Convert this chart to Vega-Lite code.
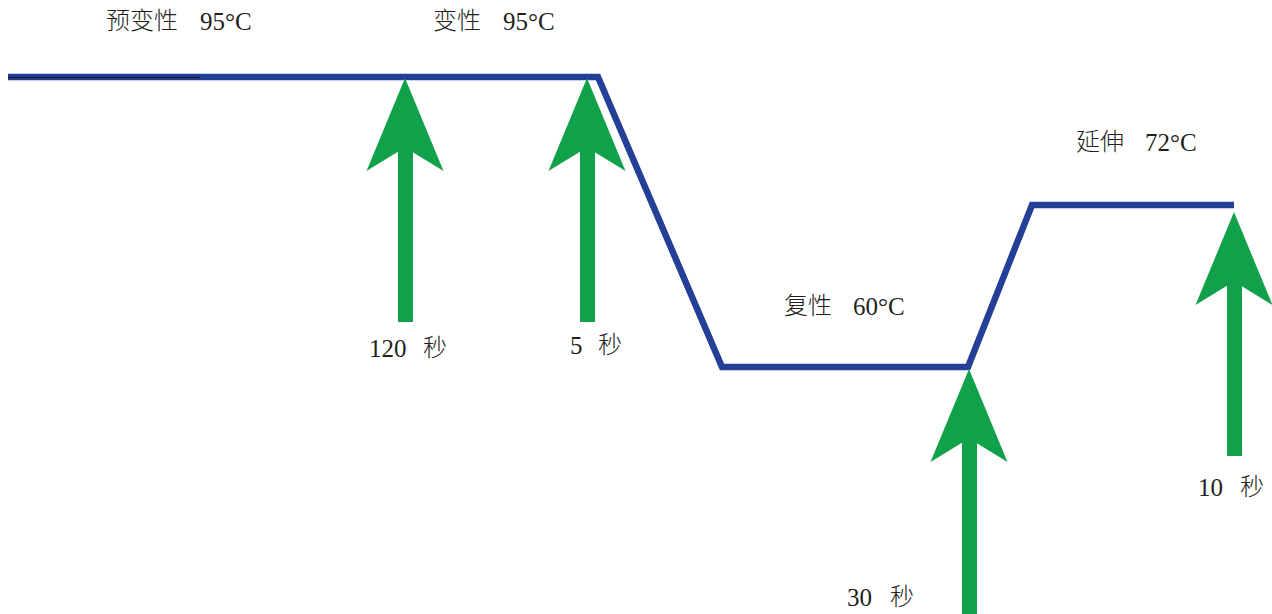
{
  "$schema": "https://vega.github.io/schema/vega-lite/v6.json",
  "width": 1272,
  "height": 614,
  "autosize": {"type": "none"},
  "padding": 0,
  "background": "white",
  "config": {"view": {"stroke": null}},
  "datasets": {
    "profile": [
      {"order": 1, "x": 8, "y": 77},
      {"order": 2, "x": 598, "y": 77},
      {"order": 3, "x": 722, "y": 367},
      {"order": 4, "x": 968, "y": 367},
      {"order": 5, "x": 1032, "y": 205},
      {"order": 6, "x": 1234, "y": 205}
    ],
    "underline": [
      {"order": 1, "x": 8, "y": 77.5},
      {"order": 2, "x": 200, "y": 77.5}
    ],
    "shafts": [
      {"x": 398, "x2": 413, "y": 150, "y2": 322},
      {"x": 580, "x2": 595, "y": 150, "y2": 322},
      {"x": 962, "x2": 977, "y": 440, "y2": 614},
      {"x": 1227, "x2": 1242, "y": 282, "y2": 456}
    ],
    "heads": [
      {"x": 405, "y": 124.5},
      {"x": 587, "y": 124.5},
      {"x": 969, "y": 415.5},
      {"x": 1234, "y": 258.5}
    ],
    "words": [
      {"x": 106, "y": 22, "text": "预变性"},
      {"x": 433, "y": 22, "text": "变性"},
      {"x": 1076, "y": 143, "text": "延伸"},
      {"x": 784, "y": 307, "text": "复性"},
      {"x": 423, "y": 349, "text": "秒"},
      {"x": 598, "y": 346, "text": "秒"},
      {"x": 890, "y": 598, "text": "秒"},
      {"x": 1240, "y": 488, "text": "秒"}
    ],
    "numbers": [
      {"x": 200, "y": 22, "text": "95°C"},
      {"x": 503, "y": 22, "text": "95°C"},
      {"x": 1145, "y": 143, "text": "72°C"},
      {"x": 853, "y": 307, "text": "60°C"},
      {"x": 369, "y": 349, "text": "120"},
      {"x": 570, "y": 346, "text": "5"},
      {"x": 847, "y": 598, "text": "30"},
      {"x": 1198, "y": 488, "text": "10"}
    ]
  },
  "layer": [
    {
      "data": {"name": "profile"},
      "mark": {"type": "line", "color": "#233f97", "strokeWidth": 6.5, "strokeJoin": "miter", "strokeCap": "butt"},
      "encoding": {
        "x": {"field": "x", "type": "quantitative", "scale": {"domain": [0, 1272], "nice": false, "zero": false}, "axis": null},
        "y": {"field": "y", "type": "quantitative", "scale": {"domain": [614, 0], "nice": false, "zero": false}, "axis": null},
        "order": {"field": "order"}
      }
    },
    {
      "data": {"name": "underline"},
      "mark": {"type": "line", "color": "#1b1f3a", "strokeWidth": 1.5},
      "encoding": {
        "x": {"field": "x", "type": "quantitative", "axis": null},
        "y": {"field": "y", "type": "quantitative", "axis": null},
        "order": {"field": "order"}
      }
    },
    {
      "data": {"name": "shafts"},
      "mark": {"type": "rect", "color": "#10a14a"},
      "encoding": {
        "x": {"field": "x", "type": "quantitative", "axis": null},
        "x2": {"field": "x2"},
        "y": {"field": "y", "type": "quantitative", "axis": null},
        "y2": {"field": "y2"}
      }
    },
    {
      "data": {"name": "heads"},
      "mark": {"type": "point", "filled": true, "color": "#10a14a", "opacity": 1, "strokeWidth": 0, "size": 8649, "shape": "M0,-1 L0.828,1 L0.16,0.59 L-0.16,0.59 L-0.828,1 Z"},
      "encoding": {
        "x": {"field": "x", "type": "quantitative", "axis": null},
        "y": {"field": "y", "type": "quantitative", "axis": null}
      }
    },
    {
      "data": {"name": "words"},
      "mark": {"type": "text", "align": "left", "baseline": "middle", "font": "Noto Sans CJK SC", "fontWeight": 300, "fontSize": 24, "color": "#231f20"},
      "encoding": {
        "x": {"field": "x", "type": "quantitative", "axis": null},
        "y": {"field": "y", "type": "quantitative", "axis": null},
        "text": {"field": "text"}
      }
    },
    {
      "data": {"name": "numbers"},
      "mark": {"type": "text", "align": "left", "baseline": "middle", "font": "Liberation Serif", "fontSize": 25, "color": "#231f20"},
      "encoding": {
        "x": {"field": "x", "type": "quantitative", "axis": null},
        "y": {"field": "y", "type": "quantitative", "axis": null},
        "text": {"field": "text"}
      }
    }
  ]
}
